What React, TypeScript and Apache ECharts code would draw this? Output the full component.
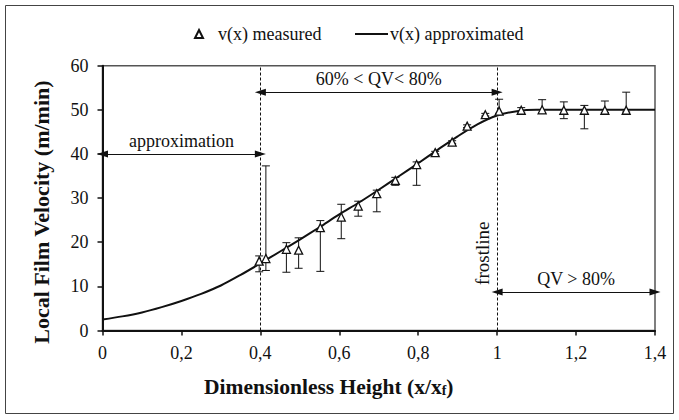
import React, { useEffect, useRef } from "react";
import * as echarts from "echarts";

// measured points
const measuredX = [0.397, 0.414, 0.466, 0.497, 0.552, 0.605, 0.648, 0.695, 0.742, 0.796, 0.843, 0.886, 0.924, 0.970, 1.005, 1.061, 1.114, 1.169, 1.221, 1.273, 1.327];
const measuredY = [15.7, 16.3, 18.4, 18.2, 23.3, 25.7, 28.2, 31.0, 34.0, 37.6, 40.3, 42.7, 46.3, 48.9, 49.7, 49.9, 50.0, 49.9, 49.9, 49.9, 49.9];
const errLow = [13.3, 13.6, 13.2, 14.1, 13.4, 20.8, 25.9, 26.9, 32.9, 32.9, 40.0, 42.4, 46.0, 48.6, 49.2, 49.3, 49.3, 48.0, 45.7, 49.4, 49.5];
const errHigh = [16.9, 37.3, 19.9, 21.0, 24.9, 28.6, 29.3, 31.8, 34.7, 38.2, 40.6, 43.0, 46.6, 49.2, 52.4, 50.5, 52.3, 51.8, 51.0, 52.0, 54.0];

// approximated curve
const curveX = [0, 0.05, 0.1, 0.15, 0.2, 0.25, 0.3, 0.35, 0.4, 0.45, 0.5, 0.55, 0.6, 0.65, 0.7, 0.75, 0.8, 0.85, 0.9, 0.95, 1.0, 1.05, 1.1, 1.15, 1.2, 1.25, 1.3, 1.35, 1.4];
const curveY = [2.5, 3.2, 4.1, 5.3, 6.7, 8.3, 10.2, 12.6, 15.2, 17.9, 20.6, 23.4, 26.3, 29.0, 31.9, 34.9, 37.9, 41.0, 44.0, 46.7, 48.7, 49.7, 50.0, 50.0, 50.0, 50.0, 50.0, 50.0, 50.0];

const xTickLabels = ["0", "0,2", "0,4", "0,6", "0,8", "1", "1,2", "1,4"];

// annotations
const zoneBounds = [0, 0.4, 1.0, 1.4];
const zoneLabels = ["approximation", "60% < QV< 80%", "QV > 80%"];
const zoneArrowY = [40, 54, 8.7];
const frostlineX = 1.0;
const frostlineLabelTop = 35;

const FONT = "'Liberation Serif', 'Times New Roman', serif";

export default function App() {
  const ref = useRef<HTMLDivElement>(null);
  useEffect(() => {
    if (!ref.current) return;
    const chart = echarts.init(ref.current, undefined, { renderer: "svg" });
    const scatterData = measuredX.map((x, i) => [x, measuredY[i]]);
    const errData = measuredX.map((x, i) => [x, errLow[i], errHigh[i]]);
    const lineData = curveX.map((x, i) => [x, curveY[i]]);

    const arrowLines = zoneLabels.map((lab, i) => [
      {
        coord: [zoneBounds[i], zoneArrowY[i]],
        symbol: "triangle",
        label: {
          show: true,
          formatter: lab,
          position: "insideMiddleTop",
          distance: 4,
          color: "#111",
          fontFamily: FONT,
          fontSize: 18,
        },
      },
      { coord: [zoneBounds[i + 1], zoneArrowY[i]], symbol: "triangle" },
    ]);

    chart.setOption({
      animation: false,
      backgroundColor: "#fff",
      textStyle: { fontFamily: FONT },
      graphic: [
        {
          type: "rect",
          z: -10,
          shape: { x: 5.5, y: 5.5, width: 668, height: 408 },
          style: { fill: "none", stroke: "#444", lineWidth: 1 },
        },
      ],
      legend: [
        {
          left: 189,
          top: 20,
          itemWidth: 8,
          itemHeight: 8,
          textStyle: { fontFamily: FONT, fontSize: 18, color: "#111", padding: [0, 0, 0, 10] },
          data: [{ name: "v(x) measured", icon: "triangle" }],
        },
        {
          left: 350,
          top: 20,
          itemWidth: 33,
          itemHeight: 2,
          textStyle: { fontFamily: FONT, fontSize: 18, color: "#111", padding: [0, 0, 0, -3] },
          data: [{ name: "v(x) approximated", icon: "rect" }],
        },
      ],
      grid: {
        left: 102.5,
        right: 24,
        top: 65.7,
        bottom: 89.5,
        show: true,
        borderColor: "#555",
        borderWidth: 1.5,
        backgroundColor: "transparent",
      },
      xAxis: {
        type: "value",
        min: 0,
        max: 1.4,
        interval: 0.2,
        name: "Dimensionless Height (x/x{sub|f})",
        nameLocation: "middle",
        nameGap: 45,
        nameTextStyle: {
          fontFamily: FONT,
          fontSize: 21.5,
          fontWeight: "bold",
          color: "#111",
          padding: [0, 100, 0, 0],
          rich: {
            sub: { fontFamily: FONT, fontSize: 14, fontWeight: "bold", color: "#111", verticalAlign: "bottom", padding: [8, 0, 0, 0] },
          },
        },
        axisLine: { lineStyle: { color: "#111", width: 2 } },
        axisTick: { show: true, inside: false, length: 5, lineStyle: { color: "#111", width: 1.5 } },
        axisLabel: {
          margin: 13,
          fontFamily: FONT,
          fontSize: 18,
          color: "#111",
          formatter: (v: number) => xTickLabels[Math.round(v / 0.2)] ?? "",
        },
        splitLine: { show: false },
      },
      yAxis: {
        type: "value",
        min: 0,
        max: 60,
        interval: 10,
        name: "Local Film Velocity (m/min)",
        nameLocation: "middle",
        nameGap: 50,
        nameTextStyle: {
          fontFamily: FONT,
          fontSize: 22,
          fontWeight: "bold",
          color: "#111",
          padding: [0, 28, 0, 0],
        },
        axisLine: { show: true, lineStyle: { color: "#111", width: 2 } },
        axisTick: { show: true, inside: false, length: 5, lineStyle: { color: "#111", width: 1.5 } },
        axisLabel: { margin: 14, fontFamily: FONT, fontSize: 18, color: "#111" },
        splitLine: { show: false },
      },
      series: [
        {
          name: "v(x) approximated",
          type: "line",
          data: lineData,
          smooth: 0.3,
          symbol: "none",
          showSymbol: false,
          lineStyle: { color: "#111", width: 2 },
          itemStyle: { color: "#111" },
          z: 3,
          markLine: {
            silent: true,
            animation: false,
            symbol: "none",
            label: { show: false },
            lineStyle: { color: "#111", width: 1, type: [3, 2] },
            data: [
              { xAxis: zoneBounds[1] },
              { xAxis: frostlineX },
            ],
          },
        },
        {
          name: "arrows",
          type: "line",
          data: [],
          markLine: {
            silent: true,
            animation: false,
            symbolSize: [7, 11],
            lineStyle: { color: "#111", width: 1, type: "solid" },
            data: [
              ...arrowLines,
              [
                {
                  coord: [frostlineX, 0],
                  symbol: "none",
                  lineStyle: { color: "rgba(0,0,0,0)", width: 0 },
                  label: {
                    show: true,
                    formatter: "frostline",
                    position: "insideMiddleTop",
                    distance: 5,
                    color: "#111",
                    fontFamily: FONT,
                    fontSize: 19,
                  },
                },
                { coord: [frostlineX, frostlineLabelTop], symbol: "none" },
              ],
            ],
          },
        },
        {
          name: "errors",
          type: "custom",
          data: errData,
          z: 4,
          renderItem: (params: any, api: any) => {
            const x = api.value(0);
            const lo = api.coord([x, api.value(1)]);
            const hi = api.coord([x, api.value(2)]);
            const w = 4;
            const style = { stroke: "#111", lineWidth: 1 };
            return {
              type: "group",
              children: [
                { type: "line", shape: { x1: lo[0], y1: lo[1], x2: hi[0], y2: hi[1] }, style },
                { type: "line", shape: { x1: lo[0] - w, y1: lo[1], x2: lo[0] + w, y2: lo[1] }, style },
                { type: "line", shape: { x1: hi[0] - w, y1: hi[1], x2: hi[0] + w, y2: hi[1] }, style },
              ],
            };
          },
        },
        {
          name: "v(x) measured",
          type: "scatter",
          data: scatterData,
          symbol: "triangle",
          symbolSize: 8,
          symbolKeepAspect: true,
          itemStyle: { color: "#fff", borderColor: "#111", borderWidth: 1.3, opacity: 1 },
          z: 5,
        },
      ],
    });
    return () => chart.dispose();
  }, []);
  return (
    <div
      ref={ref}
      style={{ position: "absolute", left: 0, top: 0, width: 679, height: 420 }}
    />
  );
}
